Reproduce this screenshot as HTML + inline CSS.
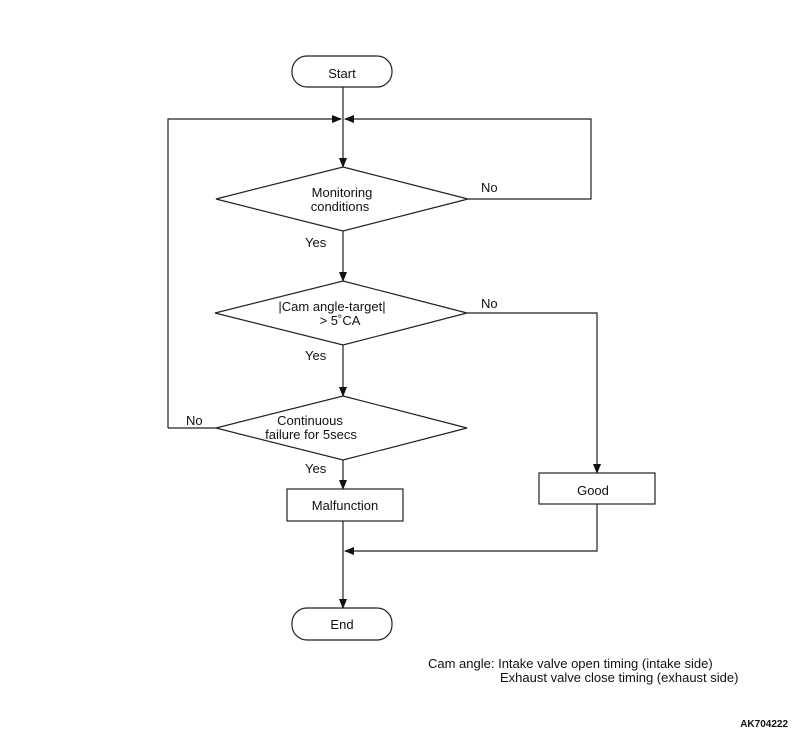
<!DOCTYPE html>
<html><head><style>
body{margin:0;background:#fff;}
svg text{font-family:"Liberation Sans",sans-serif;font-size:13px;fill:#111;}
</style></head><body>
<svg width="800" height="734" viewBox="0 0 800 734" xmlns="http://www.w3.org/2000/svg">
<defs><marker id="a" markerWidth="10" markerHeight="8" refX="9" refY="4" orient="auto" markerUnits="userSpaceOnUse"><path d="M0,0 L10,4 L0,8 z" fill="#111"/></marker></defs>
<g fill="none" stroke="#222" stroke-width="1.2">
<rect x="292" y="56" width="100" height="31" rx="15"/>
<line x1="343" y1="87" x2="343" y2="167" marker-end="url(#a)"/>
<polyline points="168,428 168,119 341,119" marker-end="url(#a)"/>
<polyline points="468,199 591,199 591,119 345,119" marker-end="url(#a)"/>
<polygon points="343,167 468,199 343,231 216,199"/>
<line x1="343" y1="231" x2="343" y2="281" marker-end="url(#a)"/>
<polygon points="343,281 467,313 343,345 215,313"/>
<polyline points="467,313 597,313 597,473" marker-end="url(#a)"/>
<line x1="343" y1="345" x2="343" y2="396" marker-end="url(#a)"/>
<polygon points="343,396 467,428 343,460 216,428"/>
<line x1="216" y1="428" x2="168" y2="428"/>
<line x1="343" y1="460" x2="343" y2="489" marker-end="url(#a)"/>
<rect x="287" y="489" width="116" height="32"/>
<rect x="539" y="473" width="116" height="31"/>
<polyline points="597,504 597,551 345,551" marker-end="url(#a)"/>
<line x1="343" y1="521" x2="343" y2="608" marker-end="url(#a)"/>
<rect x="292" y="608" width="100" height="32" rx="15"/>
</g>
<g text-anchor="middle">
<text x="342" y="78">Start</text>
<text x="342" y="197">Monitoring</text>
<text x="340" y="211">conditions</text>
<text x="332" y="311">|Cam angle-target|</text>
<text x="340" y="325">&gt; 5˚CA</text>
<text x="310" y="425">Continuous</text>
<text x="311" y="439">failure for 5secs</text>
<text x="345" y="510">Malfunction</text>
<text x="593" y="495">Good</text>
<text x="342" y="629">End</text>
</g>
<text x="481" y="192">No</text>
<text x="481" y="308">No</text>
<text x="186" y="425">No</text>
<text x="305" y="247">Yes</text>
<text x="305" y="360">Yes</text>
<text x="305" y="473">Yes</text>
<text x="428" y="668">Cam angle: Intake valve open timing (intake side)</text>
<text x="500" y="682">Exhaust valve close timing (exhaust side)</text>
<text x="788" y="727" text-anchor="end" style="font-size:10px;font-weight:bold">AK704222</text>
</svg>
</body></html>
